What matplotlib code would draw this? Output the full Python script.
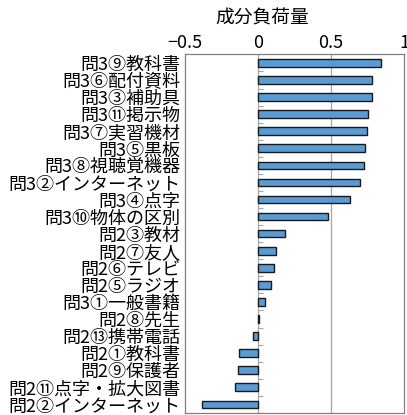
import numpy as np
import matplotlib
matplotlib.use('Agg')
import matplotlib.pyplot as plt

plt.rcParams['font.family'] = ['Noto Sans CJK JP', 'DejaVu Sans']

# Component loadings, top to bottom
labels = ['問3⑨教科書', '問3⑥配付資料', '問3③補助具', '問3⑪掲示物', '問3⑦実習機材',
          '問3⑤黒板', '問3⑧視聴覚機器', '問3②インターネット', '問3④点字', '問3⑩物体の区別',
          '問2③教材', '問2⑦友人', '問2⑥テレビ', '問2⑤ラジオ', '問3①一般書籍',
          '問2⑧先生', '問2⑬携帯電話', '問2①教科書', '問2⑨保護者', '問2⑪点字・拡大図書',
          '問2②インターネット']
loadings = [0.840, 0.783, 0.783, 0.751, 0.749,
            0.735, 0.726, 0.699, 0.628, 0.482,
            0.185, 0.121, 0.110, 0.087, 0.048,
            0.007, -0.036, -0.128, -0.137, -0.158,
            -0.384]
xticks = [-0.5, 0, 0.5, 1]
xtick_labels = ['−0.5', '0', '0.5', '1']

fig = plt.figure(figsize=(4.07, 4.15), dpi=100)
ax = fig.add_axes([0.4545, 0.005, 0.538, 0.864])

y = np.arange(len(labels))
ax.barh(y, loadings, height=0.45, color='#5B9BD5', edgecolor='#1a1a1a', linewidth=1.0, zorder=3)

# vertical gridlines
for v in [0, 0.5]:
    ax.axvline(v, color='#a6a6a6', linewidth=0.9, zorder=1)
# small ticks on the zero axis between categories
ax.hlines(np.arange(len(labels) + 1) - 0.5, 0, 0.035, color='#a6a6a6', linewidth=0.8, zorder=2)

ax.set_xlim(-0.5, 1.0)
ax.set_ylim(len(labels) - 0.5, -0.5)
ax.xaxis.tick_top()
ax.set_xticks(xticks)
ax.set_xticklabels(xtick_labels, fontsize=13)
ax.set_yticks(y)
ax.set_yticklabels(labels, fontsize=13)
ax.tick_params(axis='both', length=0, pad=2)
ax.tick_params(axis='y', pad=3)
for s in ax.spines.values():
    s.set_color('#808080')
    s.set_linewidth(0.9)

fig.text(262 / 407, 1 - 18 / 415, '成分負荷量', ha='center', va='center', fontsize=13.5)

fig.savefig('out.png', dpi=100)
